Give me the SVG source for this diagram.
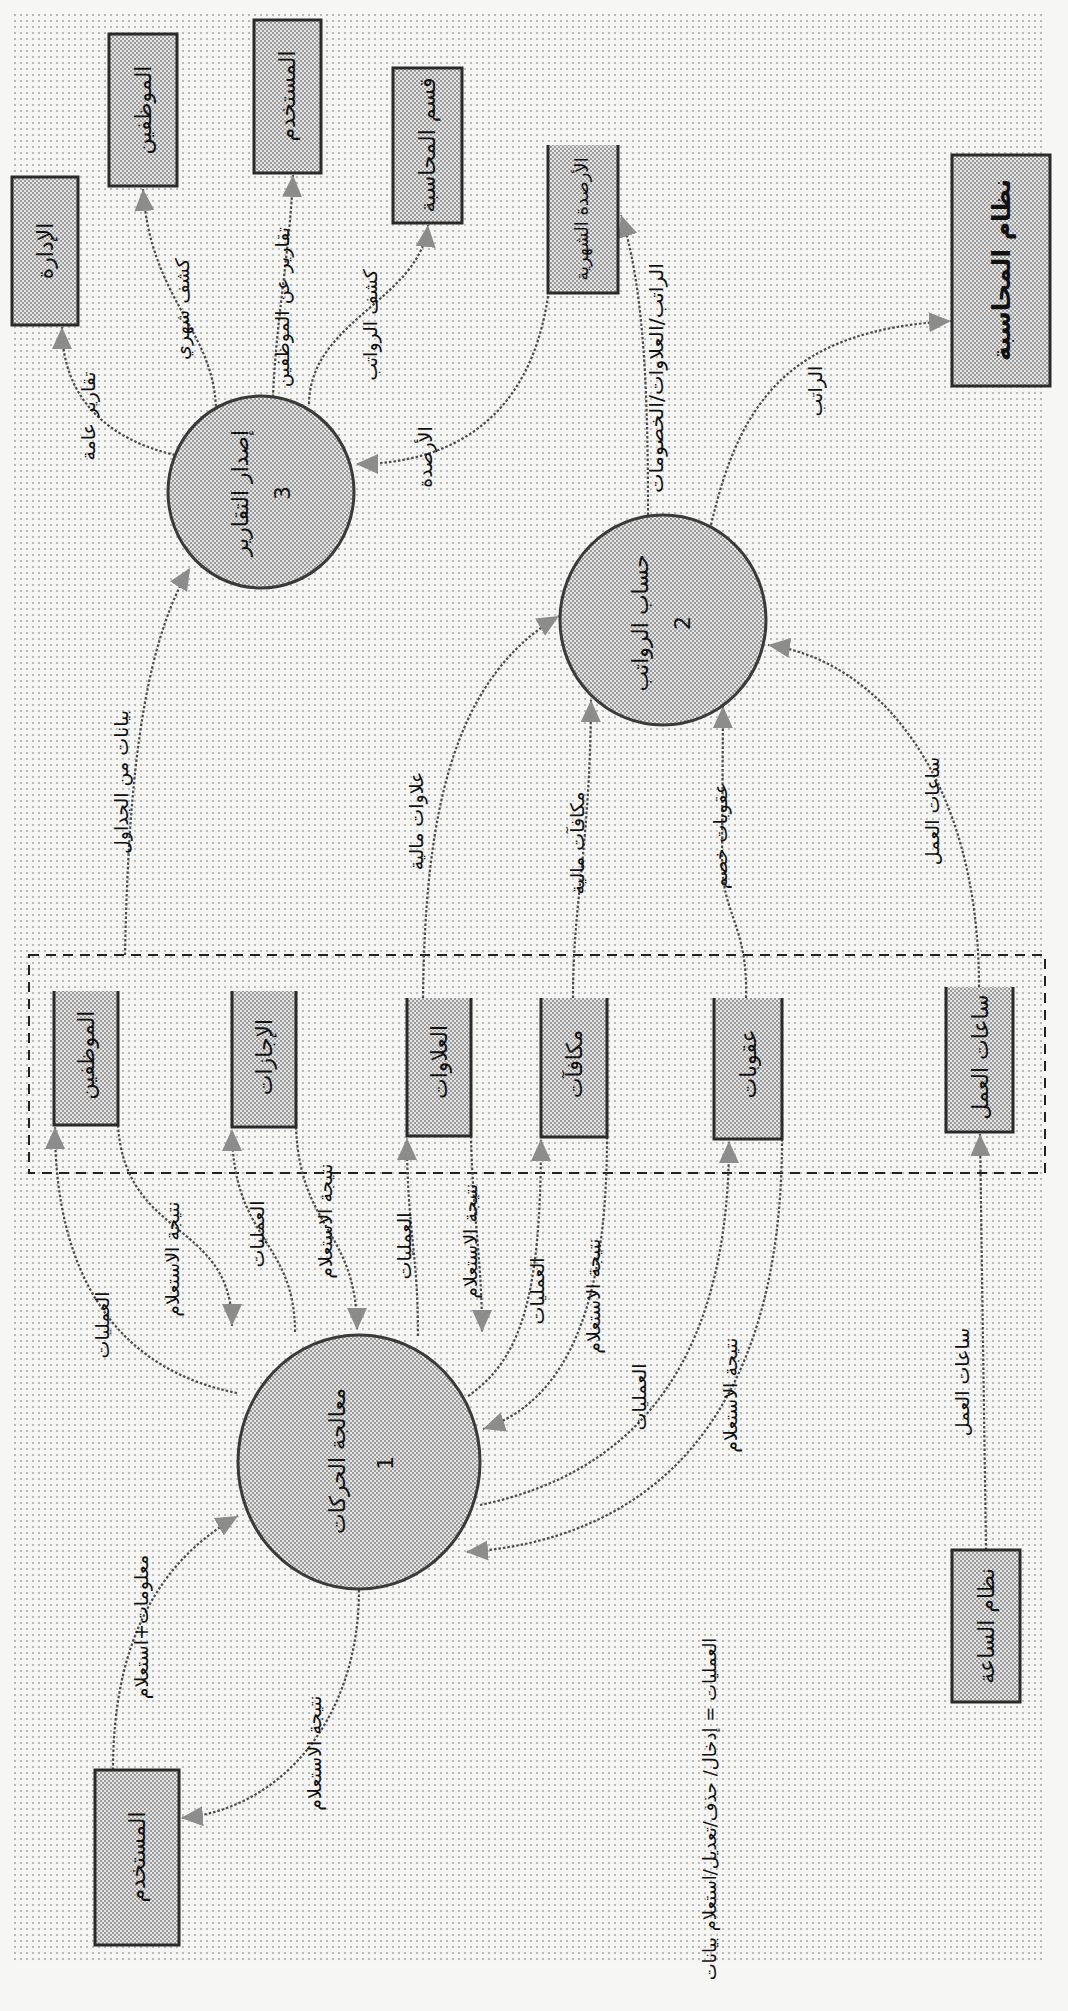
<svg xmlns="http://www.w3.org/2000/svg" width="1068" height="2011" viewBox="0 0 1068 2011">
<defs>
<pattern id="bg" width="6" height="6" patternUnits="userSpaceOnUse"><rect width="6" height="6" fill="#f5f5f3"/><circle cx="3" cy="3" r="1.1" fill="#aaaaaa"/></pattern>
<pattern id="hatch" width="4" height="4" patternUnits="userSpaceOnUse"><rect width="4" height="4" fill="#e6e6e6"/><rect width="2" height="2" fill="#9a9a9a"/><rect x="2" y="2" width="2" height="2" fill="#9a9a9a"/></pattern>
<marker id="arr" markerUnits="userSpaceOnUse" markerWidth="24" markerHeight="22" refX="22" refY="10" orient="auto"><path d="M0,0 L22,10 L0,20 Z" fill="#8c8c8c"/></marker>
</defs>
<style>
.flow{fill:none;stroke:#4a4a4a;stroke-width:2.2;stroke-dasharray:2.5 2;marker-end:url(#arr)}
.box{fill:url(#hatch);stroke:#2a2a2a;stroke-width:3}
.store{fill:url(#hatch);stroke:#2a2a2a;stroke-width:3}
.proc{fill:url(#hatch);stroke:#3a3a3a;stroke-width:3}
text{font-family:"DejaVu Sans",sans-serif;fill:#111;text-anchor:middle;dominant-baseline:central}
.lbl{font-size:19px}
.nl{font-size:22px}
.sm{font-size:18px}
.pl{font-size:22px}
.big{font-size:25px;font-weight:bold}
.leg{font-size:18px}
</style>
<rect width="1068" height="2011" fill="#f6f6f4"/>
<rect x="12" y="14" width="1033" height="1950" fill="url(#bg)"/>
<rect id="boundary" x="29" y="955" width="1016" height="218" fill="none" stroke="#222" stroke-width="2" stroke-dasharray="10 7"/>

<g id="connectors">
<path class="flow" d="M175,455 C110,440 62,400 62,327"/>
<path class="flow" d="M216,411 C215,330 150,300 143,189"/>
<path class="flow" d="M273,397 C276,320 290,250 293,175"/>
<path class="flow" d="M309,404 C310,320 420,300 428,225"/>
<path class="flow" d="M548,296 C530,420 450,464 356,464"/>
<path class="flow" d="M648,515 C648,400 645,290 621,215"/>
<path class="flow" d="M711,525 C740,400 790,330 951,321"/>
<path class="flow" d="M423,998 C425,820 450,680 559,616"/>
<path class="flow" d="M573,998 C573,900 590,850 591,700"/>
<path class="flow" d="M746,998 C748,925 722,915 722,860 L723,706"/>
<path class="flow" d="M979,987 C979,780 880,660 768,645"/>
<path class="flow" d="M125,955 C128,800 140,650 190,568"/>
<path class="flow" d="M237,1393 C120,1370 55,1280 55,1127"/>
<path class="flow" d="M118,1125 C125,1240 232,1220 232,1326"/>
<path class="flow" d="M295,1332 C295,1240 232,1240 232,1129"/>
<path class="flow" d="M296,1127 C300,1230 357,1230 357,1330"/>
<path class="flow" d="M418,1336 C418,1250 407,1230 407,1138"/>
<path class="flow" d="M471,1136 C473,1220 482,1260 482,1332"/>
<path class="flow" d="M468,1396 C520,1360 541,1300 541,1139"/>
<path class="flow" d="M607,1137 C607,1300 570,1400 483,1429"/>
<path class="flow" d="M480,1505 C600,1480 729,1400 729,1141"/>
<path class="flow" d="M782,1139 C782,1420 650,1540 466,1552"/>
<path class="flow" d="M986,1550 L980,1134"/>
<path class="flow" d="M113,1770 C113,1640 160,1560 238,1516"/>
<path class="flow" d="M359,1590 C359,1720 280,1810 181,1818"/>
<g id="flow-labels" class="lbl">
<text transform="translate(88,416) rotate(-90)">تقارير عامة</text>
<text transform="translate(182,309) rotate(-90)">كشف شهري</text>
<text transform="translate(282,307) rotate(-90)">تقارير عن الموظفين</text>
<text transform="translate(370,325) rotate(-90)">كشف الرواتب</text>
<text transform="translate(425,457) rotate(-90)">الأرصدة</text>
<text transform="translate(656,378) rotate(-90)" textLength="230" lengthAdjust="spacingAndGlyphs">الراتب/العلاوات/الخصومات</text>
<text transform="translate(815,391) rotate(-90)">الراتب</text>
<text transform="translate(416,821) rotate(-90)">علاوات مالية</text>
<text transform="translate(577,843) rotate(-90)">مكافآت مالية</text>
<text transform="translate(720,836) rotate(-90)">عقوبات خصم</text>
<text transform="translate(932,811) rotate(-90)">ساعات العمل</text>
<text transform="translate(121,782) rotate(-90)">بيانات من الجداول</text>
<text transform="translate(102,1325) rotate(-90)">العمليات</text>
<text transform="translate(172,1259) rotate(-90)">نتيجة الاستعلام</text>
<text transform="translate(257,1234) rotate(-90)">العمليات</text>
<text transform="translate(325,1221) rotate(-90)">نتيجة الاستعلام</text>
<text transform="translate(404,1246) rotate(-90)">العمليات</text>
<text transform="translate(470,1241) rotate(-90)">نتيجة الاستعلام</text>
<text transform="translate(537,1291) rotate(-90)">العمليات</text>
<text transform="translate(593,1296) rotate(-90)">نتيجة الاستعلام</text>
<text transform="translate(639,1397) rotate(-90)">العمليات</text>
<text transform="translate(730,1395) rotate(-90)">نتيجة الاستعلام</text>
<text transform="translate(962,1382) rotate(-90)">ساعات العمل</text>
<text transform="translate(141,1627) rotate(-90)">معلومات+استعلام</text>
<text transform="translate(314,1753) rotate(-90)">نتيجة الاستعلام</text>
</g>
</g>

<g id="p3"><ellipse class="proc" cx="261" cy="492" rx="93" ry="96"/><text class="pl" transform="translate(240,493) rotate(-90)">إصدار التقارير</text><text class="pl" transform="translate(282,493) rotate(-90)">3</text></g>
<g id="p2"><ellipse class="proc" cx="663" cy="620" rx="103" ry="105"/><text class="pl" transform="translate(640,623) rotate(-90)">حساب الرواتب</text><text class="pl" transform="translate(682,623) rotate(-90)">2</text></g>
<g id="p1"><ellipse class="proc" cx="359" cy="1462" rx="121" ry="127"/><text class="pl" transform="translate(337,1461) rotate(-90)">معالجة الحركات</text><text class="pl" transform="translate(385,1463) rotate(-90)">1</text></g>

<g id="e-admin"><rect class="box" x="12" y="177" width="66" height="148"/><text class="nl" transform="translate(45,251) rotate(-90)">الإدارة</text></g>
<g id="e-employees"><rect class="box" x="109" y="34" width="68" height="152"/><text class="nl" transform="translate(143,110) rotate(-90)">الموظفين</text></g>
<g id="e-user-top"><rect class="box" x="254" y="20" width="67" height="153"/><text class="nl" transform="translate(287,96) rotate(-90)">المستخدم</text></g>
<g id="e-accounting-dept"><rect class="box" x="393" y="68" width="69" height="155"/><text class="nl" transform="translate(427,145) rotate(-90)">قسم المحاسبة</text></g>
<g id="ds-balances"><path class="store" d="M548,145 L548,293 L618,293 L618,145"/><text class="sm" transform="translate(581,219) rotate(-90)">الأرصدة الشهرية</text></g>
<g id="e-accounting-sys"><rect class="box" x="952" y="155" width="98" height="231"/><text class="big" transform="translate(1001,270) rotate(-90)">نظام المحاسبة</text></g>

<g id="ds-employees"><path class="store" d="M54,991 L54,1125 L118,1125 L118,991"/><text class="nl" transform="translate(86,1055) rotate(-90)">الموظفين</text></g>
<g id="ds-leaves"><path class="store" d="M232,991 L232,1127 L296,1127 L296,991"/><text class="nl" transform="translate(264,1057) rotate(-90)">الإجازات</text></g>
<g id="ds-allowances"><path class="store" d="M407,998 L407,1136 L471,1136 L471,998"/><text class="nl" transform="translate(439,1062) rotate(-90)">العلاوات</text></g>
<g id="ds-bonuses"><path class="store" d="M541,998 L541,1137 L607,1137 L607,998"/><text class="nl" transform="translate(574,1064) rotate(-90)">مكافآت</text></g>
<g id="ds-penalties"><path class="store" d="M714,998 L714,1139 L782,1139 L782,998"/><text class="nl" transform="translate(748,1064) rotate(-90)">عقوبات</text></g>
<g id="ds-hours"><path class="store" d="M946,987 L946,1132 L1013,1132 L1013,987"/><text class="nl" transform="translate(980,1057) rotate(-90)">ساعات العمل</text></g>

<g id="e-clock"><rect class="box" x="952" y="1550" width="68" height="152"/><text class="nl" transform="translate(986,1626) rotate(-90)">نظام الساعة</text></g>
<g id="e-user-bottom"><rect class="box" x="95" y="1770" width="84" height="175"/><text class="nl" transform="translate(137,1857) rotate(-90)">المستخدم</text></g>

<g id="legend"><text class="leg" transform="translate(709,1809) rotate(-90)">العمليات = إدخال/ حذف/تعديل/استعلام بيانات</text></g>
</svg>
